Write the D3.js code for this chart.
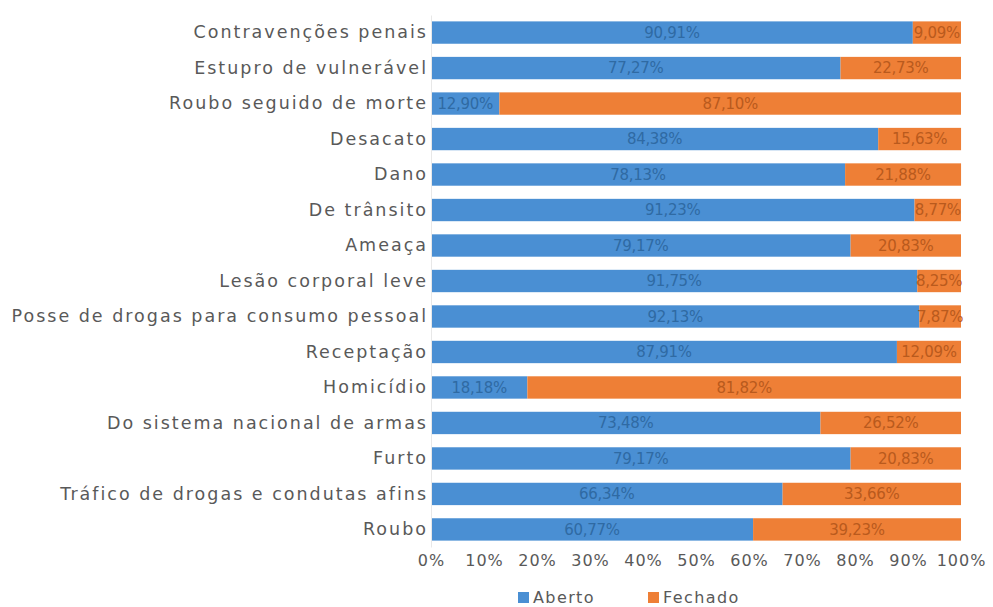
<!DOCTYPE html>
<html>
<head>
<meta charset="utf-8">
<script src="https://cdn.jsdelivr.net/npm/d3@7"></script>
<style>
  body { margin: 0; background: #fff; }
  text { font-family: "DejaVu Sans", sans-serif; }
</style>
</head>
<body>
<script>
// Categories and values (percent)
let categories = [
    "Contravenções penais",
    "Estupro de vulnerável",
    "Roubo seguido de morte",
    "Desacato",
    "Dano",
    "De trânsito",
    "Ameaça",
    "Lesão corporal leve",
    "Posse de drogas para consumo pessoal",
    "Receptação",
    "Homicídio",
    "Do sistema nacional de armas",
    "Furto",
    "Tráfico de drogas e condutas afins",
    "Roubo"
];
let aberto = [90.91, 77.27, 12.90, 84.38, 78.13, 91.23, 79.17, 91.75, 92.13, 87.91, 18.18, 73.48, 79.17, 66.34, 60.77];
let fechado = [9.09, 22.73, 87.10, 15.63, 21.88, 8.77, 20.83, 8.25, 7.87, 12.09, 81.82, 26.52, 20.83, 33.66, 39.23];
let ticks = [0, 10, 20, 30, 40, 50, 60, 70, 80, 90, 100];
let seriesNames = ["Aberto", "Fechado"];
let colors = ["#4a8fd3", "#ee7f36"];
let labelColors = ["#2f6aa3", "#b95a1d"];

let w = 993, h = 607;
let mLeft = 431, mRight = 961, mTop = 15, mBottom = 547;

let svg = d3.select("body").append("svg")
    .attr("width", w)
    .attr("height", h);

let x = d3.scaleLinear().domain([0, 100]).range([mLeft, mRight]);
let y = d3.scaleBand().domain(categories).range([mTop, mBottom]).paddingInner(0.37).paddingOuter(0.18);

let fmt = v => v.toFixed(2).replace(".", ",") + "%";

let rows = categories.map((c, i) => ({ cat: c, vals: [aberto[i], fechado[i]] }));

// Bars
rows.forEach(function(r) {
    let start = 0;
    r.vals.forEach(function(v, s) {
        svg.append("rect")
            .attr("x", x(start))
            .attr("y", y(r.cat))
            .attr("width", x(start + v) - x(start))
            .attr("height", y.bandwidth())
            .attr("fill", colors[s]);
        svg.append("text")
            .attr("x", x(start + v / 2))
            .attr("y", y(r.cat) + y.bandwidth() / 2)
            .attr("dy", "0.35em")
            .attr("text-anchor", "middle")
            .style("font-size", "15px")
            .style("letter-spacing", "-0.3px")
            .attr("fill", labelColors[s])
            .text(fmt(v));
        start += v;
    });
});

// Y axis labels
svg.append("g")
    .attr("transform", "translate(" + mLeft + ",0)")
    .call(d3.axisLeft(y).tickSize(0).tickPadding(3))
    .call(g => g.select(".domain").attr("stroke", "#e8e8e8"))
    .selectAll("text")
    .style("font-size", "17.5px")
    .style("letter-spacing", "2px")
    .attr("fill", "#595959");

// X axis labels
svg.append("g")
    .attr("transform", "translate(0," + mBottom + ")")
    .call(d3.axisBottom(x).tickValues(ticks).tickFormat(d => d + "%").tickSize(0).tickPadding(8))
    .call(g => g.select(".domain").remove())
    .selectAll("text")
    .style("font-size", "16px")
    .style("letter-spacing", "1px")
    .attr("fill", "#595959");

// Legend
let legX = [518, 648];
seriesNames.forEach(function(n, i) {
    svg.append("rect")
        .attr("x", legX[i])
        .attr("y", 592)
        .attr("width", 11)
        .attr("height", 11)
        .attr("fill", colors[i]);
    svg.append("text")
        .attr("x", legX[i] + 15)
        .attr("y", 597)
        .attr("dy", "0.35em")
        .style("font-size", "16px")
        .style("letter-spacing", "1.4px")
        .attr("fill", "#595959")
        .text(n);
});
</script>
</body>
</html>
